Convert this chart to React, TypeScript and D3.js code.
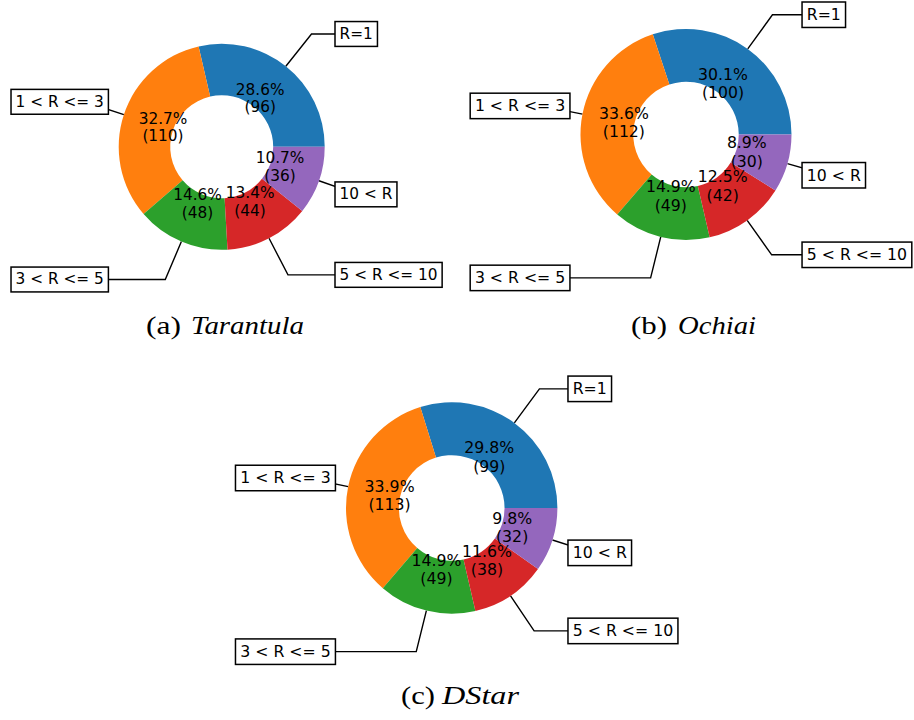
import React from "react";
import * as d3 from "d3";

const categories = ["R=1", "1 < R <= 3", "3 < R <= 5", "5 < R <= 10", "10 < R"];
const colors = ["#1f77b4", "#ff7f0e", "#2ca02c", "#d62728", "#9467bd"];

const tarantulaPct = [28.6, 32.7, 14.6, 13.4, 10.7];
const tarantulaCount = [96, 110, 48, 44, 36];
const ochiaiPct = [30.1, 33.6, 14.9, 12.5, 8.9];
const ochiaiCount = [100, 112, 49, 42, 30];
const dstarPct = [29.8, 33.9, 14.9, 11.6, 9.8];
const dstarCount = [99, 113, 49, 38, 32];

const captionTags = ["(a)", "(b)", "(c)"];
const captionNames = ["Tarantula", "Ochiai", "DStar"];

type PanelCfg = {
  pct: number[];
  count: number[];
  cx: number;
  cy: number;
  R: number;
  tag: string;
  name: string;
  tagX: number;
  tagLen: number;
  nameX: number;
  nameLen: number;
  capY: number;
};

const panels: PanelCfg[] = [
  { pct: tarantulaPct, count: tarantulaCount, cx: 221.7, cy: 146.8, R: 103, tag: captionTags[0], name: captionNames[0], tagX: 146, tagLen: 35, nameX: 191, nameLen: 113, capY: 334 },
  { pct: ochiaiPct, count: ochiaiCount, cx: 686, cy: 134.5, R: 105.5, tag: captionTags[1], name: captionNames[1], tagX: 631, tagLen: 36, nameX: 678, nameLen: 78, capY: 334 },
  { pct: dstarPct, count: dstarCount, cx: 451.7, cy: 508, R: 105.7, tag: captionTags[2], name: captionNames[2], tagX: 401, tagLen: 34, nameX: 442, nameLen: 77, capY: 704 },
];

let measureCtx: CanvasRenderingContext2D | null = null;
function measure(text: string, fs: number): number {
  if (!measureCtx) {
    const c = document.createElement("canvas");
    measureCtx = c.getContext("2d");
  }
  if (!measureCtx) return text.length * fs * 0.6;
  measureCtx.font = `${fs}px "DejaVu Sans"`;
  return measureCtx.measureText(text).width;
}

function Donut({ cfg }: { cfg: PanelCfg }) {
  const { cx, cy, R } = cfg;
  const fs = R * 0.149;
  const pie = d3
    .pie<number>()
    .sort(null)
    .value((d) => d)
    .startAngle(Math.PI / 2)
    .endAngle(Math.PI / 2 - 2 * Math.PI);
  const arcs = pie(cfg.pct);
  const arcGen = d3.arc<d3.PieArcDatum<number>>().innerRadius(R * 0.5).outerRadius(R);

  const ann = arcs.map((a, i) => {
    const m = (a.startAngle + a.endAngle) / 2;
    const sx = Math.sin(m);
    const cy0 = -Math.cos(m);
    const xy = [cx + R * sx, cy + R * cy0];
    const ty = cy + 1.4 * R * cy0;
    const corner = [cx + 1.4 * R * sx, ty];
    const side = sx >= 0 ? 1 : -1;
    const tw = measure(categories[i], fs);
    const pad = 0.3 * fs;
    const bw = tw + 2 * pad;
    const bh = 1.62 * fs;
    const edge = cx + side * 1.1 * R;
    const bx = side > 0 ? edge : edge - bw;
    const px = cx + 0.6 * R * sx;
    const py = cy + 0.6 * R * cy0;
    return { i, xy, ty, corner, bx, bw, bh, pad, px, py };
  });

  return (
    <g>
      {ann.map((a) => (
        <path
          key={"l" + a.i}
          d={`M${a.bx + a.bw / 2},${a.ty}L${a.corner[0]},${a.corner[1]}L${a.xy[0]},${a.xy[1]}`}
          fill="none"
          stroke="#000"
          strokeWidth={1.4}
        />
      ))}
      <g transform={`translate(${cx},${cy})`}>
        {arcs.map((a, i) => (
          <path key={"w" + i} d={arcGen(a) || ""} fill={colors[i]} />
        ))}
      </g>
      {ann.map((a) => (
        <g key={"b" + a.i}>
          <rect x={a.bx} y={a.ty - a.bh / 2} width={a.bw} height={a.bh} fill="#fff" stroke="#000" strokeWidth={1.5} />
          <text x={a.bx + a.pad} y={a.ty} dominantBaseline="central" fontFamily="DejaVu Sans" fontSize={fs} fill="#000">
            {categories[a.i]}
          </text>
        </g>
      ))}
      {ann.map((a) => (
        <text key={"p" + a.i} x={a.px} y={a.py} textAnchor="middle" fontFamily="DejaVu Sans" fontSize={fs} fill="#000">
          <tspan x={a.px} y={a.py - 0.58 * fs} dominantBaseline="central">
            {`${cfg.pct[a.i].toFixed(1)}%`}
          </tspan>
          <tspan x={a.px} y={a.py + 0.58 * fs} dominantBaseline="central">
            {`(${cfg.count[a.i]})`}
          </tspan>
        </text>
      ))}
      <text x={cfg.tagX} y={cfg.capY} fontFamily="Liberation Serif" fontSize={25} textLength={cfg.tagLen} lengthAdjust="spacingAndGlyphs" fill="#000">
        {cfg.tag}
      </text>
      <text x={cfg.nameX} y={cfg.capY} fontFamily="Liberation Serif" fontStyle="italic" fontSize={25} textLength={cfg.nameLen} lengthAdjust="spacingAndGlyphs" fill="#000">
        {cfg.name}
      </text>
    </g>
  );
}

export default function App() {
  return (
    <svg width={914} height={720} style={{ position: "absolute", left: 0, top: 0, background: "#fff" }}>
      <rect x={0} y={0} width={914} height={720} fill="#fff" />
      {panels.map((p, i) => (
        <Donut key={i} cfg={p} />
      ))}
    </svg>
  );
}
